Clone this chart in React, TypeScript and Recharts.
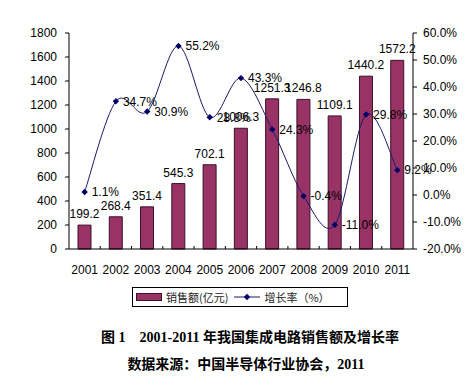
import React from 'react';
import { ComposedChart, Bar, Line, XAxis, YAxis, LabelList } from 'recharts';

const years = ['2001', '2002', '2003', '2004', '2005', '2006', '2007', '2008', '2009', '2010', '2011'];
const sales = [199.2, 268.4, 351.4, 545.3, 702.1, 1006.3, 1251.3, 1246.8, 1109.1, 1440.2, 1572.2];
const growth = [1.1, 34.7, 30.9, 55.2, 28.8, 43.3, 24.3, -0.4, -11.0, 29.8, 9.2];
const leftTicks = [0, 200, 400, 600, 800, 1000, 1200, 1400, 1600, 1800];
const rightTicks = [-20, -10, 0, 10, 20, 30, 40, 50, 60];

const data = years.map((y, i) => ({ year: y, sales: sales[i], growth: growth[i] }));

const CHART_W = 454;
const LEFT_W = 61;
const RIGHT_W = 49;
const BAND = (CHART_W - LEFT_W - RIGHT_W) / years.length;
const X_TICK_SIZE = 6;
const X_TICK_MARGIN = 10;

// Excel-like smoothed line (Catmull-Rom style Bezier)
function excelCurve(context: any) {
  let pts: number[][] = [];
  return {
    areaStart() {},
    areaEnd() {},
    lineStart() {
      pts = [];
    },
    point(x: number, y: number) {
      pts.push([+x, +y]);
    },
    lineEnd() {
      if (!pts.length) return;
      context.moveTo(pts[0][0], pts[0][1]);
      for (let i = 0; i < pts.length - 1; i++) {
        const p0 = pts[i - 1] || pts[i];
        const p1 = pts[i];
        const p2 = pts[i + 1];
        const p3 = pts[i + 2] || pts[i + 1];
        context.bezierCurveTo(
          p1[0] + (p2[0] - p0[0]) / 6,
          p1[1] + (p2[1] - p0[1]) / 6,
          p2[0] - (p3[0] - p1[0]) / 6,
          p2[1] - (p3[1] - p1[1]) / 6,
          p2[0],
          p2[1]
        );
      }
    },
  };
}

const Diamond = (props: any) => {
  const { cx, cy } = props;
  if (cx == null || cy == null) return null;
  const r = 3.2;
  return <path d={`M${cx},${cy - r}L${cx + r},${cy}L${cx},${cy + r}L${cx - r},${cy}Z`} fill="#000066" />;
};

const font = '"Liberation Sans", Arial, sans-serif';
const cjk = '"Noto Sans CJK SC", sans-serif';

const XTick = (props: any) => {
  const { x, y, payload, index } = props;
  const axisY = y - X_TICK_SIZE - X_TICK_MARGIN;
  const lx = x - BAND / 2;
  return (
    <g>
      {index > 0 && <line x1={lx} y1={axisY} x2={lx} y2={axisY - 3} stroke="#000" strokeWidth={1} />}
      <text x={x} y={y} dy="0.71em" textAnchor="middle" fontSize={12} fill="#000" fontFamily={font}>
        {payload.value}
      </text>
    </g>
  );
};

export default function App() {
  return (
    <div style={{ position: 'relative', width: 454, height: 372 }}>
      <ComposedChart
        width={CHART_W}
        height={272}
        data={data}
        margin={{ top: 25, right: 0, bottom: 0, left: 0 }}
        style={{ fontFamily: font }}
      >
        <XAxis
          dataKey="year"
          interval={0}
          axisLine={{ stroke: '#000' }}
          tickLine={false}
          tick={<XTick />}
          tickSize={X_TICK_SIZE}
          tickMargin={X_TICK_MARGIN}
          height={31}
        />
        <YAxis
          yAxisId="left"
          domain={[0, 1800]}
          ticks={leftTicks}
          interval={0}
          width={LEFT_W}
          axisLine={{ stroke: '#000' }}
          tickLine={{ stroke: '#000' }}
          tickSize={4}
          tickMargin={8}
          tick={{ fontSize: 12, fill: '#000', fontFamily: font }}
        />
        <YAxis
          yAxisId="right"
          orientation="right"
          domain={[-20, 60]}
          ticks={rightTicks}
          interval={0}
          width={RIGHT_W}
          axisLine={{ stroke: '#000' }}
          tickLine={{ stroke: '#000' }}
          tickSize={4}
          tickMargin={6}
          tickFormatter={(v: number) => v.toFixed(1) + '%'}
          tick={{ fontSize: 12, fill: '#000', fontFamily: font }}
        />
        <Bar
          yAxisId="left"
          dataKey="sales"
          fill="#993366"
          stroke="#3a1028"
          strokeWidth={1}
          barSize={13}
          isAnimationActive={false}
        >
          <LabelList
            dataKey="sales"
            position="top"
            offset={7}
            formatter={(v: any) => Number(v).toFixed(1)}
            style={{ fontSize: 12, fill: '#000', fontFamily: font }}
          />
        </Bar>
        <Line
          yAxisId="right"
          dataKey="growth"
          type={excelCurve as any}
          stroke="#1a1a66"
          strokeWidth={1}
          dot={<Diamond />}
          activeDot={false}
          isAnimationActive={false}
        >
          <LabelList
            dataKey="growth"
            position="right"
            offset={7}
            formatter={(v: any) => Number(v).toFixed(1) + '%'}
            style={{ fontSize: 12, fill: '#000', fontFamily: font }}
          />
        </Line>
      </ComposedChart>
      <div
        style={{
          position: 'absolute',
          left: 124,
          top: 279,
          width: 214,
          height: 18,
          border: '1px solid #000',
          display: 'flex',
          alignItems: 'center',
          fontFamily: cjk,
          fontSize: 11,
          color: '#222',
          boxSizing: 'content-box',
        }}
      >
        <span style={{ display: 'inline-block', width: 24, height: 6, background: '#993366', border: '1px solid #3a1028', marginLeft: 3, marginRight: 4 }} />
        <span>销售额(亿元)</span>
        <svg width={26} height={10} style={{ marginLeft: 6, marginRight: 4 }}>
          <line x1={0} y1={5} x2={26} y2={5} stroke="#1a1a66" strokeWidth={1} />
          <path d="M13,1.8L16.2,5L13,8.2L9.8,5Z" fill="#000066" />
        </svg>
        <span>增长率（%）</span>
      </div>
      <div
        style={{
          position: 'absolute',
          left: 0,
          width: 484,
          top: 318,
          textAlign: 'center',
          fontFamily: '"Liberation Serif", "Noto Sans CJK SC", serif',
          fontWeight: 'bold',
          fontSize: 14,
          color: '#000',
          whiteSpace: 'pre',
        }}
      >
        {'图 1    2001-2011 年我国集成电路销售额及增长率'}
      </div>
      <div
        style={{
          position: 'absolute',
          left: 0,
          width: 476,
          top: 345,
          textAlign: 'center',
          fontFamily: '"Liberation Serif", "Noto Sans CJK SC", serif',
          fontWeight: 'bold',
          fontSize: 14,
          color: '#000',
          whiteSpace: 'pre',
        }}
      >
        {'数据来源：中国半导体行业协会，2011'}
      </div>
    </div>
  );
}
